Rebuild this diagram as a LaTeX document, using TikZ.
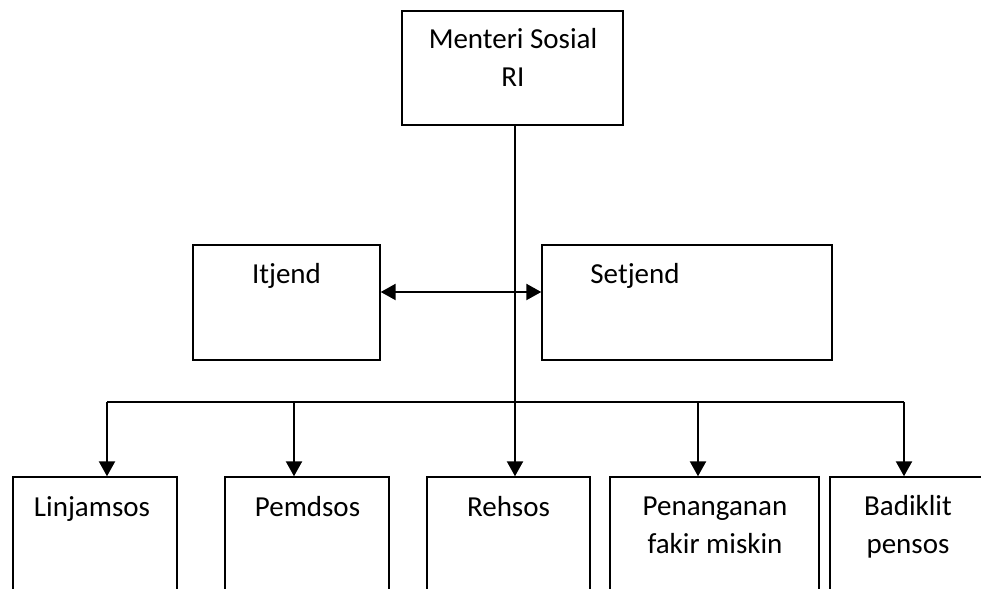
\documentclass[tikz,border=0pt]{standalone}
\usepackage{fontspec}
\setmainfont{Carlito}
\usetikzlibrary{arrows.meta}

\begin{document}
\begin{tikzpicture}[
    box/.style={draw, line width=0.8pt, inner sep=0pt},
    txt/.style={anchor=base, align=center, inner sep=0pt,
      font=\fontsize{16.5}{22}\selectfont},
    con/.style={line width=1.3pt},
    tip/.tip={Triangle[width=0.32cm, length=0.3cm]},
    arr/.style={con, -tip},
  ]
    \clip (0,0) rectangle (19.62,11.78);
    % minister
    \node (menteri) [box, minimum width=4.42cm, minimum height=2.28cm] at (10.25,10.42) {};
    \node (menteriT) [txt] at (10.26,10.04) {Menteri Sosial\\RI};
    % inspectorate and secretariat
    \node (itjend) [box, minimum width=3.74cm, minimum height=2.30cm] at ( 5.73,5.73) {};
    \node (itjendT) [txt] at ( 5.73,6.10) {Itjend};
    \node (setjend) [box, minimum width=5.80cm, minimum height=2.30cm] at (13.74,5.73) {};
    \node (setjendT) [txt] at (12.70,6.10) {Setjend};
    % directorates
    \node (linjam) [box, minimum width=3.28cm, minimum height=2.74cm] at ( 1.90,0.87) {};
    \node (linjamT) [txt] at ( 1.84,1.44) {Linjamsos};
    \node (pemd) [box, minimum width=3.28cm, minimum height=2.74cm] at ( 6.14,0.87) {};
    \node (pemdT) [txt] at ( 6.15,1.44) {Pemdsos};
    \node (rehs) [box, minimum width=3.26cm, minimum height=2.74cm] at (10.17,0.87) {};
    \node (rehsT) [txt] at (10.17,1.44) {Rehsos};
    \node (fakir) [box, minimum width=4.18cm, minimum height=2.74cm] at (14.29,0.87) {};
    \node (fakirT) [txt] at (14.30,0.70) {Penanganan\\fakir miskin};
    \node (badik) [box, minimum width=3.12cm, minimum height=2.74cm] at (18.16,0.87) {};
    \node (badikT) [txt] at (18.16,0.70) {Badiklit\\pensos};
    % bus points
    \coordinate (bus1) at ( 2.14,3.74);
    \coordinate (bus2) at ( 5.88,3.74);
    \coordinate (bus3) at (10.30,3.74);
    \coordinate (bus4) at (13.96,3.74);
    \coordinate (bus5) at (18.08,3.74);
    \coordinate (mid) at (10.30,5.94);
    % connectors
    \draw[arr] (menteri.south -| bus3) -- (bus3 |- rehs.north);
    \draw[con, tip-tip] (itjend.east |- mid) -- (setjend.west |- mid);
    \draw[con] (bus1) -- (bus5);
    \draw[arr] (bus1) -- (bus1 |- linjam.north);
    \draw[arr] (bus2) -- (bus2 |- pemd.north);
    \draw[arr] (bus4) -- (bus4 |- fakir.north);
    \draw[arr] (bus5) -- (bus5 |- badik.north);
  \end{tikzpicture}
\end{document}
